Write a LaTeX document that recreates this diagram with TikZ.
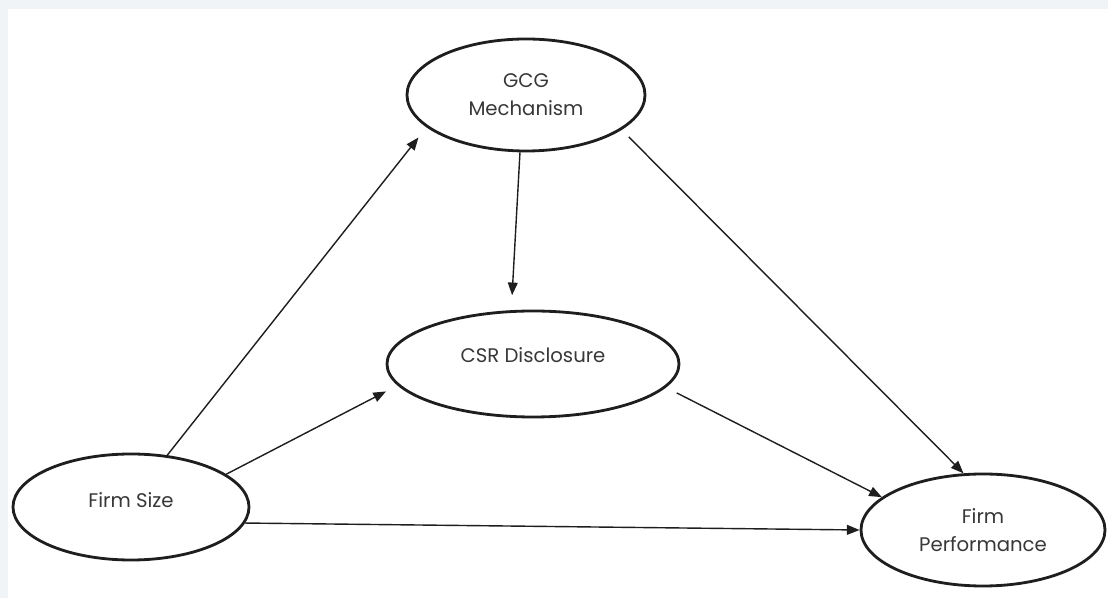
\documentclass[tikz,border=0pt]{standalone}
\usepackage{fontspec}
\setmainfont{Poppins}
\usetikzlibrary{arrows.meta,positioning,shapes.geometric}
\definecolor{pagebg}{HTML}{F0F4F7}
\definecolor{inkgray}{HTML}{1E1E1E}
\definecolor{txtgray}{HTML}{383838}
\tikzset{
  construct/.style={ellipse, draw=inkgray, line width=2pt, fill=white,
    inner sep=0pt, align=center, text=txtgray,
    font=\fontsize{14}{20}\selectfont},
  link/.style={-{Triangle[length=9pt, width=7pt]}, line width=1pt, draw=inkgray},
}

\begin{document}
\begin{tikzpicture}

  %% ---- page ----
  \fill[pagebg] (0,0) rectangle (27.7,14.95);
  \fill[white] (0.2,0) rectangle (27.7,14.725);
  \useasboundingbox (0,0) rectangle (27.7,14.95);

  %% ---- constructs ----
  \node[construct, minimum width=5.95cm, minimum height=2.8cm] (gcg) at (13.15, 12.575) {GCG\\Mechanism};
  \node[construct, minimum width=7.3cm, minimum height=2.65cm, text depth=0.45cm] (csr) at (13.325, 5.85) {CSR Disclosure};
  \node[construct, minimum width=5.9cm, minimum height=2.65cm, text depth=0.35cm] (fs) at (3.275, 2.275) {Firm Size};
  \node[construct, minimum width=6.1cm, minimum height=2.8cm] (fp) at (24.575, 1.7) {Firm\\Performance};

  %% ---- paths ----
  \draw[link, shorten >=0.325cm] (fs.55) -- (gcg.198);
  \draw[link, shorten >=0.325cm] (fs.19) -- (csr.189);
  \draw[link] (fs.-8) -- (fp.180);
  \draw[link, shorten >=0.375cm] (gcg.-96) -- (csr.112);
  \draw[link, shorten <=0.25cm] (gcg.-20) -- (fp.109);
  \draw[link, shorten <=0.3cm] (csr.-10) -- (fp.162);

\end{tikzpicture}
\end{document}
